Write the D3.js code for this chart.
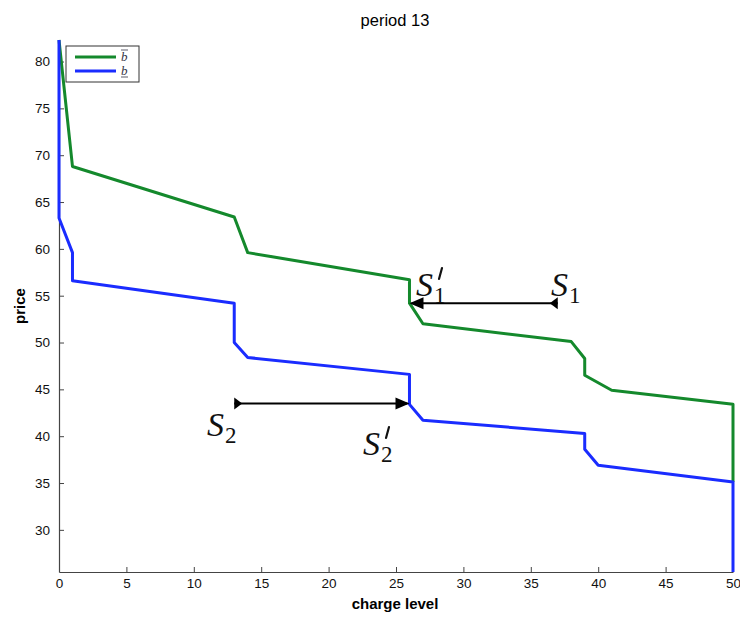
<!DOCTYPE html>
<html><head><meta charset="utf-8">
<script src="https://cdn.jsdelivr.net/npm/d3@7"></script>
<style>body{margin:0;background:#fff}svg{display:block}</style>
</head><body>
<svg id="c" width="740" height="617"></svg>
<script>
// Data
const upperX = [0, 1, 13, 14, 26, 26, 27, 38, 39, 39, 41, 50, 50];
const upperY = [82.3, 68.8, 63.4, 59.6, 56.7, 54.2, 52.0, 50.1, 48.3, 46.5, 44.9, 43.4, 35.1];
const lowerX = [0, 0, 1, 1, 13, 13, 14, 26, 26, 27, 39, 39, 40, 50, 50];
const lowerY = [82.3, 63.3, 59.6, 56.6, 54.2, 50.0, 48.4, 46.6, 43.4, 41.7, 40.3, 38.6, 36.9, 35.1, 25.5];
const xTicks = [0, 5, 10, 15, 20, 25, 30, 35, 40, 45, 50];
const yTicks = [30, 35, 40, 45, 50, 55, 60, 65, 70, 75, 80];
const arrow1 = {from: 37, to: 26, y: 54.2};
const arrow2 = {from: 13, to: 26, y: 43.5};

const svg = d3.select("#c");
const x = d3.scaleLinear().domain([0, 50]).range([59, 733]);
const y = d3.scaleLinear().domain([25.5, 82.3]).range([572, 40]);

const axisColor = "#444";
const gx = svg.append("g").attr("transform", `translate(0,${y(25.5)})`)
  .call(d3.axisBottom(x).tickValues(xTicks).tickSizeInner(-5).tickSizeOuter(0).tickPadding(6));
const gy = svg.append("g").attr("transform", `translate(${x(0)},0)`)
  .call(d3.axisLeft(y).tickValues(yTicks).tickSizeInner(-5).tickSizeOuter(0).tickPadding(9));
[gx, gy].forEach(g => {
  g.select(".domain").attr("stroke", axisColor).attr("stroke-width", 1.2);
  g.selectAll(".tick line").attr("stroke", axisColor);
  g.selectAll(".tick text").attr("font-family", "Liberation Sans, Arial, sans-serif")
    .attr("font-size", 13.5).attr("fill", "#111");
});

const line = d3.line().x(d => x(d[0])).y(d => y(d[1]));
const up = upperX.map((v, i) => [v, upperY[i]]);
const lo = lowerX.map((v, i) => [v, lowerY[i]]);
svg.append("path").datum(up).attr("d", line).attr("fill", "none")
  .attr("stroke", "#14892c").attr("stroke-width", 3).attr("stroke-linejoin", "round");
svg.append("path").datum(lo).attr("d", line).attr("fill", "none")
  .attr("stroke", "#1a2cff").attr("stroke-width", 3).attr("stroke-linejoin", "round");

function arrow(a) {
  const x1 = x(a.from), x2 = x(a.to), yy = y(a.y);
  const dir = Math.sign(x2 - x1);
  svg.append("line").attr("x1", x1).attr("x2", x2 - dir * 2).attr("y1", yy).attr("y2", yy)
    .attr("stroke", "#000").attr("stroke-width", 2);
  svg.append("path").attr("d", `M${x2},${yy} L${x2 - dir * 14},${yy - 6} L${x2 - dir * 14},${yy + 6} Z`).attr("fill", "#000");
  svg.append("path").attr("d", `M${x1},${yy - 6} L${x1},${yy + 6} L${x1 + dir * 8},${yy} Z`).attr("fill", "#000");
}
arrow(arrow1);
arrow(arrow2);

function mathLabel(px, py, sub, prime) {
  const t = svg.append("text").attr("x", px).attr("y", py)
    .attr("font-family", "Liberation Serif, serif").attr("font-size", 34).attr("fill", "#111");
  t.append("tspan").attr("font-style", "italic").text("S");
  t.append("tspan").attr("font-size", 23).attr("dy", 7).attr("dx", 1).text(sub);
  if (prime) {
    const px2 = px + 22, py2 = py - 22;
    svg.append("path").attr("d", `M${px2 + 4},${py2 - 6} L${px2 + 1},${py2 + 5}`)
      .attr("stroke", "#111").attr("stroke-width", 2.2).attr("stroke-linecap", "round");
  }
}
mathLabel(416, 296, "1", true);
mathLabel(551, 296, "1", false);
mathLabel(207, 436, "2", false);
mathLabel(363, 455, "2", true);

svg.append("text").attr("x", 395).attr("y", 26).attr("text-anchor", "middle")
  .attr("font-family", "Liberation Sans, Arial, sans-serif").attr("font-size", 16.5).text("period 13");
svg.append("text").attr("x", 395).attr("y", 609).attr("text-anchor", "middle")
  .attr("font-family", "Liberation Sans, Arial, sans-serif").attr("font-size", 15).attr("font-weight", "bold").text("charge level");
svg.append("text").attr("transform", "translate(25,306) rotate(-90)").attr("text-anchor", "middle")
  .attr("font-family", "Liberation Sans, Arial, sans-serif").attr("font-size", 15).attr("font-weight", "bold").text("price");

const lg = svg.append("g");
lg.append("rect").attr("x", 66).attr("y", 46).attr("width", 73).attr("height", 36)
  .attr("fill", "#fff").attr("stroke", "#333").attr("stroke-width", 1);
const legendItems = [{c: "#14892c", bar: "over"}, {c: "#1a2cff", bar: "under"}];
legendItems.forEach((d, i) => {
  const yy = 57 + i * 14;
  lg.append("line").attr("x1", 75).attr("x2", 116).attr("y1", yy).attr("y2", yy)
    .attr("stroke", d.c).attr("stroke-width", 3);
  lg.append("text").attr("x", 121).attr("y", yy + 4).attr("font-family", "Liberation Serif, serif")
    .attr("font-style", "italic").attr("font-size", 13).attr("fill", "#334").text("b");
  const by = d.bar === "over" ? yy - 7 : yy + 6;
  lg.append("line").attr("x1", 121).attr("x2", 128).attr("y1", by).attr("y2", by)
    .attr("stroke", "#334").attr("stroke-width", 0.8);
});
</script>
</body></html>
